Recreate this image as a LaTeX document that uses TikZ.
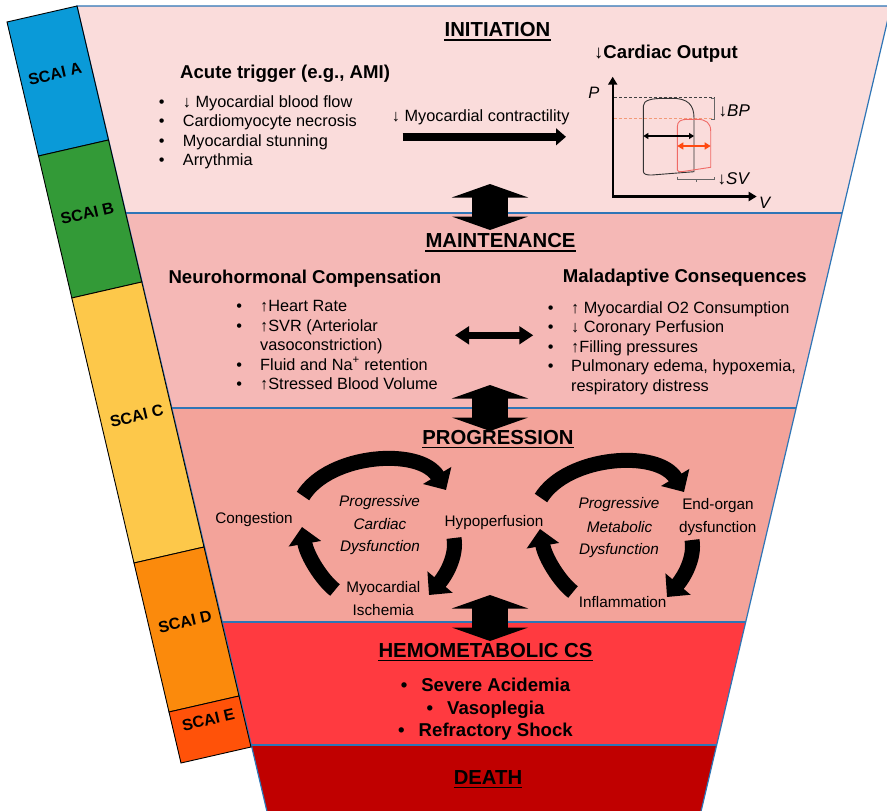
\documentclass[tikz,border=0pt]{standalone}
\usepackage{fontspec}
\setmainfont{Liberation Sans}
\usetikzlibrary{arrows.meta}

\definecolor{cIni}{HTML}{FADCDB}
\definecolor{cMai}{HTML}{F5B8B6}
\definecolor{cPro}{HTML}{F3A39A}
\definecolor{cHem}{HTML}{FF3A40}
\definecolor{cDea}{HTML}{C00000}
\definecolor{cEdge}{HTML}{2E75B6}
\definecolor{sA}{HTML}{0A9AD8}
\definecolor{sB}{HTML}{339A37}
\definecolor{sC}{HTML}{FDC84A}
\definecolor{sD}{HTML}{FB8A0C}
\definecolor{sE}{HTML}{FF5209}
\definecolor{pvred}{HTML}{F06A66}
\definecolor{pvdash}{HTML}{F29A78}
\definecolor{pvorange}{HTML}{FF4A12}

\tikzset{
  txt/.style={inner sep=0pt, font=\fontsize{16.3}{19.5}\selectfont},
  lbl/.style={inner sep=0pt, font=\fontsize{15.3}{18}\selectfont},
  lblit/.style={inner sep=0pt, font=\fontsize{15.3}{18}\selectfont\itshape},
  hd/.style={inner sep=0pt, font=\fontsize{18.6}{22}\selectfont\bfseries},
  ttl/.style={inner sep=0pt, anchor=base, font=\fontsize{20.3}{24}\selectfont\bfseries},
  ul/.style={line width=1.8pt},
  scai/.style={inner sep=0pt, rotate=13, font=\fontsize{16}{19}\selectfont\bfseries},
  band/.style={draw=cEdge, line width=1.2pt},
  seg/.style={draw=black, line width=0.9pt},
  cyc/.style={line width=15pt, -{Triangle[length=17pt,width=32pt]}},
  blk/.style={line width=36pt, {Triangle[length=13.5pt,width=76pt]}-{Triangle[length=13.5pt,width=76pt]}},
  hblk/.style={line width=7.6pt, {Triangle[length=14pt,width=17.4pt]}-{Triangle[length=14pt,width=17.4pt]}},
  rblk/.style={line width=8.4pt, -{Triangle[length=10pt,width=16.6pt]}},
  pvk/.style={draw=black!80, line width=0.9pt},
  pvr/.style={draw=pvred, line width=0.9pt},
  pvtxt/.style={inner sep=0pt, font=\fontsize{17}{20}\selectfont},
}

\begin{document}
\begin{tikzpicture}[x=1pt,y=-1pt]
\useasboundingbox (0,0) rectangle (887,811);
\fill[white] (0,0) rectangle (887,811);
\clip (0,0) rectangle (887,811);

% funnel bands
\fill[cIni] (77,6) -- (891,6) -- (842.1,213) -- (125.9,213) -- cycle;
\fill[cMai] (125.9,213) -- (842.1,213) -- (796.1,408) -- (171.9,408) -- cycle;
\fill[cPro] (171.9,408) -- (796.1,408) -- (745.6,622) -- (222.4,622) -- cycle;
\fill[cHem] (222.4,622) -- (745.6,622) -- (716.6,745) -- (251.4,745) -- cycle;
\fill[cDea] (251.4,745) -- (716.6,745) -- (699,820) -- (269,820) -- cycle;
\draw[band] (269,820) -- (77,6) -- (891,6) -- (699,820);
\draw[band] (125.9,213) -- (842.1,213);
\draw[band] (171.9,408) -- (796.1,408);
\draw[band] (222.4,622) -- (745.6,622);
\draw[band] (251.4,745) -- (716.6,745);

% SCAI strip
\filldraw[seg, fill=sA] (7,22) -- (77,6) -- (108.5,140) -- (38.5,156) -- cycle;
\filldraw[seg, fill=sB] (38.5,156) -- (108.5,140) -- (141.8,282) -- (71.8,298) -- cycle;
\filldraw[seg, fill=sC] (71.8,298) -- (141.8,282) -- (204,547) -- (134,563) -- cycle;
\filldraw[seg, fill=sD] (134,563) -- (204,547) -- (239,696) -- (169,712) -- cycle;
\filldraw[seg, fill=sE] (169,712) -- (239,696) -- (251,747) -- (181,763) -- cycle;
\node[scai] (scA) at (55,74) {SCAI A};
\node[scai] (scB) at (87.3,213.3) {SCAI B};
\node[scai] (scC) at (136.7,416) {SCAI C};
\node[scai] (scD) at (185,621.7) {SCAI D};
\node[scai] (scE) at (208.3,720) {SCAI E};

% titles
\node[ttl] (tIni) at (497.5,36.7) {INITIATION};
\node[ttl] (tMai) at (500.5,247.3) {MAINTENANCE};
\node[ttl] (tPro) at (498,444) {PROGRESSION};
\node[ttl] (tHem) at (485.5,657) {HEMOMETABOLIC CS};
\node[ttl] (tDea) at (488,784) {DEATH};
\foreach \n in {tIni,tMai,tPro,tHem,tDea}{
  \draw[ul] ([yshift=-3.5pt]\n.base west) -- ([yshift=-3.5pt]\n.base east);
}

% initiation
\node[hd, anchor=base west] (acute) at (180,78) {Acute trigger (e.g., AMI)};
\foreach \y/\t [count=\i] in {107.2/{↓ Myocardial blood flow}, 126.7/{Cardiomyocyte necrosis}, 146.2/{Myocardial stunning}, 165.7/{Arrythmia}}{
  \node[txt, anchor=base] (ib\i) at (161.7,\y) {\textbullet};
  \node[txt, anchor=base west] (it\i) at (182.7,\y) {\t};
}
\node[txt, anchor=base west] (contr) at (391.7,121) {↓ Myocardial contractility};
\coordinate (ca1) at (402.7,136.8);
\coordinate (ca2) at (566,136.8);
\draw[rblk] (ca1) -- (ca2);
\node[hd, anchor=base] (co) at (666,58.3) {{\mdseries ↓}Cardiac Output};

% PV diagram
\coordinate (pvO) at (612.7,196.5);
\coordinate (pvP) at (612.7,76.7);
\coordinate (pvV) at (756.7,196.5);
\draw[line width=2.3pt, {Triangle[length=8pt,width=9pt]}-{Triangle[length=8pt,width=9pt]}] (pvP) -- (pvO) -- (pvV);
\node[pvtxt, font=\fontsize{16.5}{20}\selectfont\itshape, anchor=base] (lP) at (593.8,98.3) {P};
\node[pvtxt, font=\fontsize{16.5}{20}\selectfont\itshape, anchor=base] (lV) at (764.7,208.3) {V};
\draw[black!75, line width=0.7pt, dash pattern=on 3pt off 2pt] (614,97.3) -- (714.3,97.3);
\draw[pvdash, line width=0.8pt, dash pattern=on 3pt off 2pt] (614,118.3) -- (714.3,118.3);
\draw[pvk] (643.3,171) -- (643.3,106) .. controls (643.3,100) and (652,98.3) .. (665,98.3) -- (672,98.3) .. controls (688,98.3) and (694,105) .. (694,118) -- (694,171.7) -- (652,175) .. controls (646,175.3) and (643.3,174) .. cycle;
\draw[pvr] (677.3,170) -- (677.3,127) .. controls (677.3,121) and (681,119.3) .. (688,119.3) -- (697,119.3) .. controls (706,119.3) and (710.7,123) .. (710.7,131) -- (710.7,167.3) -- (683,171.5) .. controls (679,172) and (677.3,171.5) .. cycle;
\coordinate (kl) at (643.3,136);
\coordinate (kr) at (694,136);
\draw[line width=1.2pt, {Triangle[length=5pt,width=6pt]}-{Triangle[length=5pt,width=6pt]}] (kl) -- (kr);
\coordinate (rl) at (677.3,146);
\coordinate (rr) at (710.7,146);
\draw[pvorange, line width=1.3pt, {Triangle[length=6pt,width=7pt]}-{Triangle[length=6pt,width=7pt]}] (rl) -- (rr);
\draw[black!60, line width=0.7pt] (711.3,98.3) -- (714.3,98.3) -- (714.3,119.3) -- (711.3,119.3);
\draw[black!60, line width=0.7pt] (677.3,176.5) -- (677.3,179) -- (714,179) -- (714,176.5) (696,179) -- (696,181.5);
\node[pvtxt, anchor=base west] (lBP) at (718.5,116) {↓\textit{BP}};
\node[pvtxt, anchor=base west] (lSV) at (717.5,184) {↓\textit{SV}};

% block arrows between stages
\coordinate (a1t) at (490,184); \coordinate (a1b) at (490,230);
\coordinate (a2t) at (490,385); \coordinate (a2b) at (490,431);
\coordinate (a3t) at (490,595); \coordinate (a3b) at (490,641);
\draw[blk] (a1t) -- (a1b);
\draw[blk] (a2t) -- (a2b);
\draw[blk] (a3t) -- (a3b);

% maintenance
\node[hd, anchor=base west] (neuro) at (168.3,283) {Neurohormonal Compensation};
\node[hd, anchor=base west] (mala) at (562.7,282.7) {Maladaptive Consequences};
\foreach \y/\t [count=\i] in {311.7/{↑Heart Rate}, 331.2/{↑SVR (Arteriolar}, 370.2/{Fluid and Na\textsuperscript{+} retention}, 389.7/{↑Stressed Blood Volume}}{
  \node[txt, anchor=base] (nb\i) at (239.3,\y) {\textbullet};
  \node[txt, anchor=base west] (nt\i) at (260,\y) {\t};
}
\node[txt, anchor=base west] (nvaso) at (260,350.7) {vasoconstriction)};
\foreach \y/\t [count=\i] in {313/{↑ Myocardial O2 Consumption}, 332.5/{↓ Coronary Perfusion}, 352/{↑Filling pressures}, 371.5/{Pulmonary edema, hypoxemia,}}{
  \node[txt, anchor=base] (mb\i) at (550.7,\y) {\textbullet};
  \node[txt, anchor=base west] (mt\i) at (571,\y) {\t};
}
\node[txt, anchor=base west] (mresp) at (571,391) {respiratory distress};
\coordinate (h1) at (455,335.3);
\coordinate (h2) at (533.3,335.3);
\draw[hblk] (h1) -- (h2);

% progression
\node[lbl, anchor=base] (cong) at (254,523.7) {Congestion};
\node[lblit, anchor=base] (pc1) at (379.6,506) {Progressive};
\node[lblit, anchor=base] (pc2) at (380,529.3) {Cardiac};
\node[lblit, anchor=base] (pc3) at (380,551.5) {Dysfunction};
\node[lbl, anchor=base] (hypo) at (494,526) {Hypoperfusion};
\node[lbl, anchor=base] (myo1) at (383.3,592.7) {Myocardial};
\node[lbl, anchor=base] (myo2) at (383.3,615.5) {Ischemia};
\node[lblit, anchor=base] (pm1) at (619,508.3) {Progressive};
\node[lblit, anchor=base] (pm2) at (619.5,532) {Metabolic};
\node[lblit, anchor=base] (pm3) at (619,554) {Dysfunction};
\node[lbl, anchor=base] (eo1) at (718,509.3) {End-organ};
\node[lbl, anchor=base] (eo2) at (717.7,532.7) {dysfunction};
\node[lbl, anchor=base] (infl) at (622.7,607.7) {Inflammation};

\foreach \dx/\dy in {0/0, 238/2}{
  \begin{scope}[shift={(\dx,\dy)}]
    \draw[cyc] (303,496) .. controls (329.5,453.5) and (420,447) .. (446,490);
    \draw[cyc] (454,538) .. controls (457,556) and (446,575) .. (429,595);
    \draw[cyc] (335,590) .. controls (322,580) and (307,556) .. (302,527);
  \end{scope}
}

% hemometabolic
\foreach \y/\t [count=\i] in {691/{Severe Acidemia}, 714/{Vasoplegia}, 736/{Refractory Shock}}{
  \node[hd, anchor=base] (hb\i) at (485.5,\y) {\textbullet\hspace{14pt}\t};
}
\end{tikzpicture}
\end{document}
